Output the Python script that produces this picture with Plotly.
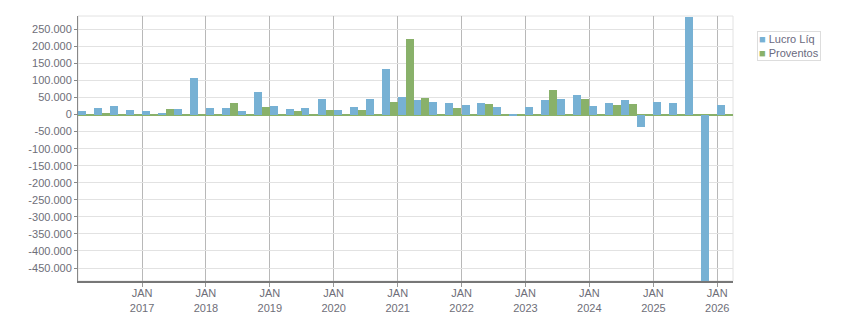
import plotly.graph_objects as go

# Quarter start dates, 2016 Q1 .. 2026 Q1
quarters = [f"{y}-{m:02d}-01" for y in range(2016, 2027) for m in (1, 4, 7, 10)][:41]

lucro_liq = [9800, 18600, 24500, 12700, 9800, 4000, 15700, 106800, 18600, 18600,
             9800, 65700, 24500, 15700, 18600, 45000, 12700, 21600, 45000, 133300,
             51000, 42000, 36300, 33300, 27400, 33300, 21600, -4900, 21600, 42000,
             45000, 56800, 24500, 33300, 42000, -37200, 36300, 33300, 286000, -500000,
             27400]
proventos = [0, 3000, 0, 0, 0, 15700, 0, 0, 0, 33300,
             0, 21600, 0, 9800, 0, 12700, 0, 12700, 0, 36300,
             221500, 48000, 0, 18600, 0, 30400, 0, 0, 0, 71500,
             0, 45000, 0, 27400, 30400, 0, 0, 0, 0, 0,
             0]
series_names = ["Lucro Líq", "Proventos"]

year_ticks = [f"{y}-01-01" for y in range(2017, 2027)]
year_labels = [f"JAN<br>{y}" for y in range(2017, 2027)]

y_ticks = list(range(-450000, 250001, 50000))
y_labels = [("-" if v < 0 else "") + f"{abs(v):,}".replace(",", ".") for v in y_ticks]

BLUE = "#77b1d4"
GREEN = "#89b16a"
half_q = 365.25 / 8 * 86400000  # half a quarter in ms

fig = go.Figure()
fig.add_trace(go.Bar(x=quarters, y=lucro_liq, name=series_names[0], marker_color=BLUE,
                     marker_line_width=0, offset=0, width=half_q))
fig.add_trace(go.Bar(x=quarters, y=proventos, name=series_names[1], marker_color=GREEN,
                     marker_line_width=0, offset=half_q, width=half_q))

FAM = "Liberation Sans, Arial, sans-serif"
font = dict(family=FAM, size=11, color="#6e6e78")

legend_text = "<br>".join(
    f"<span style='color:{c}'>■</span> {n}" for c, n in zip([BLUE, GREEN], series_names))

fig.update_layout(
    width=851, height=313,
    margin=dict(l=78, r=118, t=16, b=32, autoexpand=False),
    paper_bgcolor="white", plot_bgcolor="white",
    font=font,
    barmode="group", bargap=0, bargroupgap=0,
    showlegend=False,
    xaxis=dict(type="date", range=["2016-01-01", "2026-04-01"],
               tickmode="array", tickvals=year_ticks, ticktext=year_labels,
               showgrid=True, gridcolor="#b8b8b8", gridwidth=1,
               ticks="outside", ticklen=4, tickcolor="#999999",
               showline=True, linecolor="#777777", linewidth=2,
               zeroline=False, tickfont=font, automargin=False,
               ticklabelstandoff=-3),
    yaxis=dict(range=[-488000, 289000],
               tickmode="array", tickvals=y_ticks, ticktext=y_labels,
               showgrid=True, gridcolor="#e2e2e2", gridwidth=1,
               ticks="outside", ticklen=3, tickcolor="#888888",
               showline=True, linecolor="#888888", linewidth=1,
               zeroline=True, zerolinecolor=GREEN, zerolinewidth=1.5,
               tickfont=font, automargin=False),
    shapes=[dict(type="rect", xref="paper", yref="paper", x0=0, x1=1, y0=0, y1=1,
                 line=dict(color="#e2e2e2", width=1), layer="below")],
    annotations=[dict(xref="paper", yref="paper", x=1.0366, y=0.943,
                      xanchor="left", yanchor="top", align="left",
                      showarrow=False, text=legend_text,
                      font=dict(family=FAM, size=11, color="#6a6a80"),
                      bordercolor="#dddddd", borderwidth=1, borderpad=1,
                      bgcolor="white")],
)

fig.write_html("out.html")
